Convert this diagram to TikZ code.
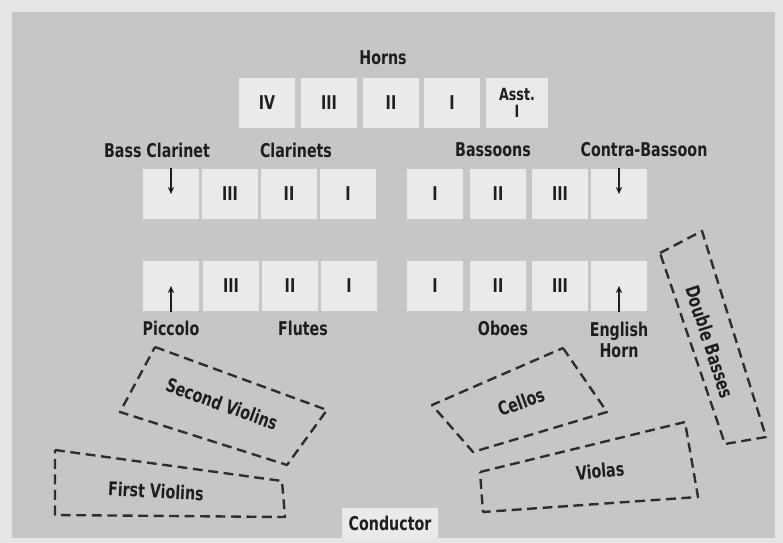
\documentclass[tikz,border=0pt]{standalone}
\usepackage{fontspec}
\setmainfont{DejaVu Sans}[FakeStretch=0.75]
\usepackage{xcolor}
\usepackage{tikz}
\usetikzlibrary{arrows.meta}

\definecolor{framegray}{HTML}{E6E6E6}
\definecolor{stagegray}{HTML}{C6C6C6}
\definecolor{seatfill}{HTML}{EAEAEA}
\definecolor{inkgray}{HTML}{1E1E1E}
\definecolor{dashgray}{HTML}{2E2E2E}

\begin{document}
\begin{tikzpicture}[x=0.025cm,y=-0.025cm,
  seat/.style={rectangle,fill=seatfill,minimum width=1.42cm,minimum height=1.27cm,
               inner sep=0pt,align=center,text=inkgray,
               font=\fontsize{13.5}{12}\selectfont\bfseries},
  lbl/.style={align=center,text=inkgray,inner sep=1pt,
              font=\fontsize{13.5}{15}\selectfont\bfseries},
  section/.style={draw=dashgray,line width=1.7pt,dash pattern=on 7pt off 4pt,
                  line join=round},
  arr/.style={-{Stealth[length=5pt,width=4.5pt]},line width=1.1pt,draw=inkgray}
]
\useasboundingbox (0,0) rectangle (783,543);

%% Stage background
\fill[framegray] (0,0) rectangle (783,543);
\fill[stagegray] (12,12) rectangle (775,538);

%% Horns
\node[lbl] (hornslbl) at (383,58) {Horns};
\node[seat] (horn4) at (267,103) {IV};
\node[seat] (horn3) at (329,103) {III};
\node[seat] (horn2) at (391,103) {II};
\node[seat] (horn1) at (452,103) {I};
\node[seat,minimum width=1.55cm,font=\fontsize{12}{12}\selectfont\bfseries]
  (hornA) at (517,103) {Asst.\\I};

%% Clarinets and bassoons
\node[lbl] (bcllbl) at (157,150) {Bass Clarinet};
\node[lbl] (cllbl)  at (296,150) {Clarinets};
\node[lbl] (bnlbl)  at (493,150) {Bassoons};
\node[lbl] (cbnlbl) at (644,150) {Contra-Bassoon};
\node[seat] (bcl) at (171,194) {};
\node[seat] (cl3) at (230,194) {III};
\node[seat] (cl2) at (289,194) {II};
\node[seat] (cl1) at (348,194) {I};
\node[seat] (bn1) at (435,194) {I};
\node[seat] (bn2) at (498,194) {II};
\node[seat] (bn3) at (560,194) {III};
\node[seat] (cbn) at (619,194) {};

%% Flutes and oboes
\node[seat] (picc) at (171,286) {};
\node[seat] (fl3)  at (231,286) {III};
\node[seat] (fl2)  at (290,286) {II};
\node[seat] (fl1)  at (349,286) {I};
\node[seat] (ob1)  at (435,286) {I};
\node[seat] (ob2)  at (498,286) {II};
\node[seat] (ob3)  at (560,286) {III};
\node[seat] (eh)   at (619,286) {};
\node[lbl] (picclbl) at (171,328) {Piccolo};
\node[lbl] (fllbl)   at (303,328) {Flutes};
\node[lbl] (oblbl)   at (503,328) {Oboes};
\node[lbl] (ehlbl)   at (619,340) {English\\Horn};

%% Pointers into the unnumbered seats
\draw[arr] (bcl.north) -- (bcl.center);
\draw[arr] (cbn.north) -- (cbn.center);
\draw[arr] (picc.south) -- (picc.center);
\draw[arr] (eh.south) -- (eh.center);

%% String sections
\draw[section] (155,347) -- (327,410) -- (287,465) -- (120,412) -- cycle;
\node[lbl,rotate=-20] (vn2) at (222,404) {Second Violins};
\draw[section] (55,450) -- (282,481) -- (285,517) -- (55,515) -- cycle;
\node[lbl,rotate=-3] (vn1) at (156,491) {First Violins};
\draw[section] (563,348) -- (607,412) -- (473,452) -- (432,405) -- cycle;
\node[lbl,rotate=20] (vc) at (521,402) {Cellos};
\draw[section] (480,472) -- (685,422) -- (698,497) -- (483,512) -- cycle;
\node[lbl,rotate=5] (va) at (600,471) {Violas};
\draw[section] (660,253) -- (702,231) -- (766,437) -- (725,444) -- cycle;
\node[lbl,rotate=-72] (cb) at (710,342) {Double Basses};

%% Conductor
\node[rectangle,fill=seatfill,minimum width=2.4cm,minimum height=0.75cm,
      text=inkgray,font=\fontsize{13.5}{15}\selectfont\bfseries] (cond) at (390,523) {Conductor};
\end{tikzpicture}
\end{document}
